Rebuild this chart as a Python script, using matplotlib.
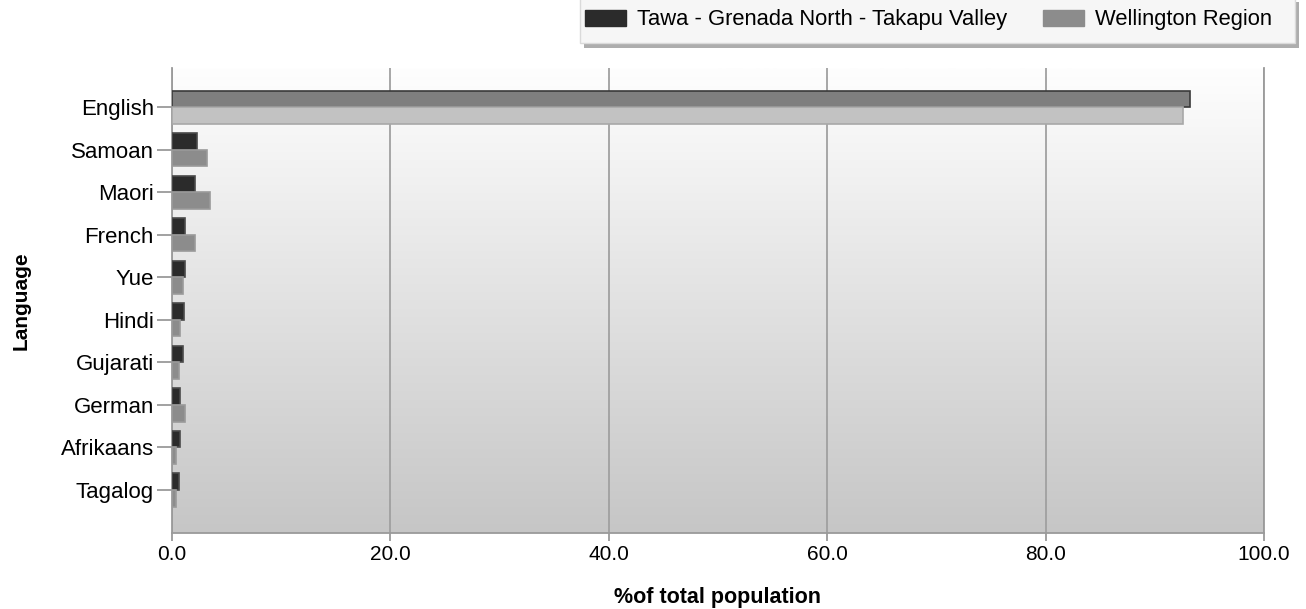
import numpy as np
import matplotlib
matplotlib.use("Agg")
import matplotlib.pyplot as plt
from matplotlib.colors import LinearSegmentedColormap
from matplotlib.patches import Patch, Rectangle

plt.rcParams["font.family"] = ["Liberation Sans", "DejaVu Sans"]

languages = ["English", "Samoan", "Maori", "French", "Yue", "Hindi",
             "Gujarati", "German", "Afrikaans", "Tagalog"]
tawa = [93.2, 2.3, 2.1, 1.2, 1.2, 1.1, 1.0, 0.7, 0.7, 0.6]
wellington = [92.6, 3.2, 3.5, 2.1, 1.0, 0.7, 0.6, 1.2, 0.4, 0.4]
series_names = ["Tawa - Grenada North - Takapu Valley", "Wellington Region"]
x_ticks = [0, 20, 40, 60, 80, 100]

W, H = 1306, 609
fig = plt.figure(figsize=(W / 100, H / 100), dpi=100)
ax = fig.add_axes([172 / W, 1 - 533 / H, (1264 - 172) / W, (533 - 68) / H])

# soft white-to-grey gradient behind the plot area
grad = LinearSegmentedColormap.from_list("bg", ["#fefefe", "#c6c6c6"])
ax.imshow(np.linspace(0, 1, 256).reshape(-1, 1), cmap=grad, aspect="auto",
          extent=(0, 1, 0, 1), transform=ax.transAxes, zorder=0)

y = np.arange(len(languages))
h = 0.39
# English row is drawn in the washed-out "highlighted" style
dark_fc = ["#7f7f7f"] + ["#2b2b2b"] * (len(y) - 1)
dark_ec = ["#3a3a3a"] + ["#4a4a4a"] * (len(y) - 1)
light_fc = ["#c2c2c2"] + ["#8c8c8c"] * (len(y) - 1)
light_ec = ["#a8a8a8"] + ["#9a9a9a"] * (len(y) - 1)
ax.barh(y - h / 2, tawa, height=h, color=dark_fc, edgecolor=dark_ec,
        linewidth=1.2, zorder=3)
ax.barh(y + h / 2, wellington, height=h, color=light_fc, edgecolor=light_ec,
        linewidth=1.2, zorder=3)

ax.set_xlim(0, 100)
ax.set_ylim(len(languages) - 1 + 1.01, -0.92)
ax.set_yticks(y)
ax.set_yticklabels(languages)
ax.set_xticks(x_ticks)
ax.set_xticklabels([f"{v:.1f}" for v in x_ticks])
ax.xaxis.grid(True, color="#a0a0a0", linewidth=1.3, zorder=1)
ax.set_axisbelow(True)
ax.tick_params(axis="y", length=11, width=1.3, color="#9a9a9a",
               labelsize=16, pad=2)
ax.tick_params(axis="x", length=6, width=1.3, color="#9a9a9a",
               labelsize=15, pad=3)
ax.spines["top"].set_visible(False)
for side in ("left", "bottom", "right"):
    ax.spines[side].set_color("#9a9a9a")
    ax.spines[side].set_linewidth(1.3)

ax.set_xlabel("%of total population", fontsize=15.5, fontweight="bold",
              labelpad=16)
ax.set_ylabel("Language", fontsize=15, fontweight="bold", labelpad=22)

# legend box drawn by hand (padding is lopsided in the original)
bx0, bx1, by0, by1 = 580, 1295, -3, 43
fig.patches.append(Rectangle((bx0 / W + 4 / W, 1 - (by1 + 5) / H),
                             (bx1 - bx0) / W, (by1 - by0) / H,
                             transform=fig.transFigure, facecolor="#8a8a8a",
                             edgecolor="none", alpha=0.7, zorder=1))
fig.patches.append(Rectangle((bx0 / W, 1 - by1 / H),
                             (bx1 - bx0) / W, (by1 - by0) / H,
                             transform=fig.transFigure, facecolor="#f6f6f6",
                             edgecolor="#dadada", linewidth=1, zorder=2))

handles = [Patch(facecolor="#2b2b2b", edgecolor="#2b2b2b"),
           Patch(facecolor="#8c8c8c", edgecolor="#8c8c8c")]
leg = fig.legend(handles, series_names, loc="center left",
                 bbox_to_anchor=(585 / W, 1 - 20 / H), ncol=2, fontsize=15.8,
                 frameon=False, handlelength=1.87, handleheight=0.73,
                 columnspacing=1.64, borderpad=0.0, borderaxespad=0.0,
                 handletextpad=0.5)
leg.set_zorder(3)

fig.savefig("out.png", dpi=100)
